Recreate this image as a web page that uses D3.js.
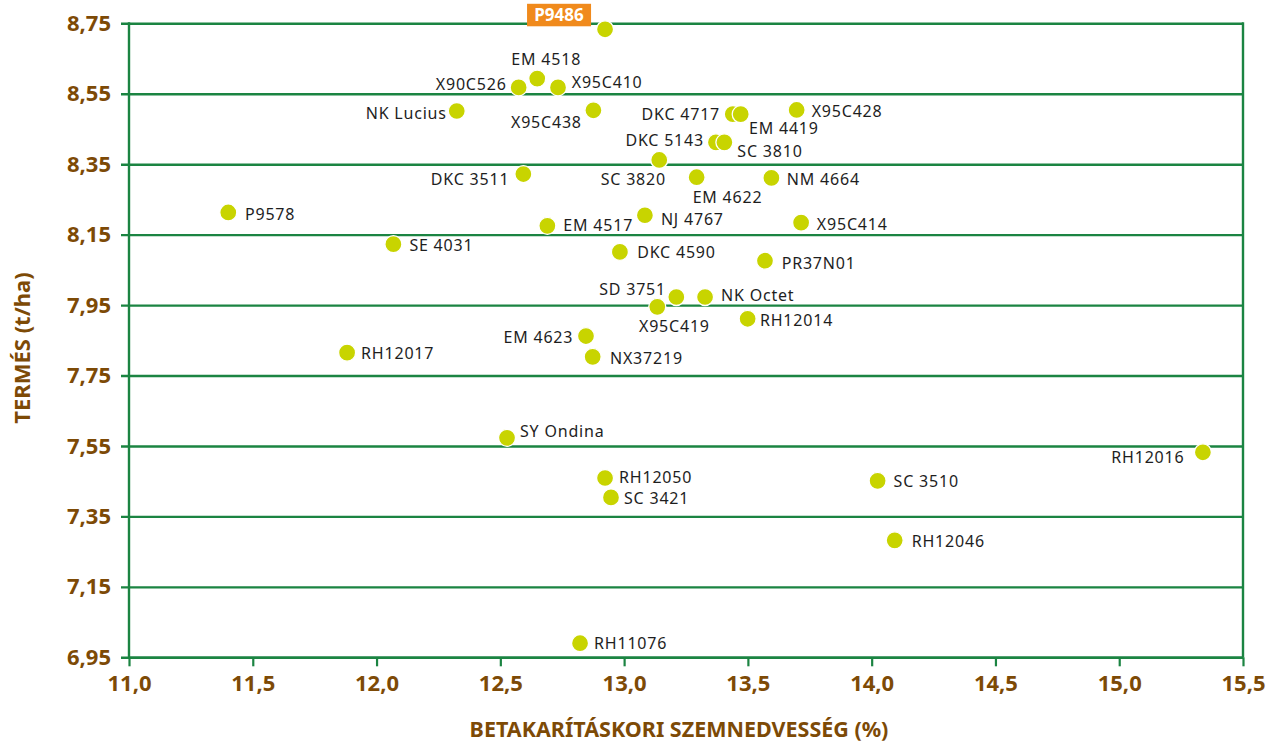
<!DOCTYPE html>
<html>
<head>
<meta charset="utf-8">
<script src="https://cdn.jsdelivr.net/npm/d3@7"></script>
<style>
  html, body { margin: 0; padding: 0; background: #ffffff; }
  svg { display: block; }
</style>
</head>
<body>
<svg id="chart" width="1271" height="745"></svg>
<script>
// ---------- data ----------
const hybrids = ["P9486","EM 4518","X90C526","X95C410","NK Lucius","X95C438","DKC 4717","EM 4419",
  "X95C428","DKC 5143","SC 3810","SC 3820","DKC 3511","EM 4622","NM 4664","NJ 4767","EM 4517",
  "X95C414","SE 4031","P9578","DKC 4590","PR37N01","SD 3751","NK Octet","X95C419","RH12014",
  "EM 4623","NX37219","RH12017","SY Ondina","RH12050","SC 3421","RH11076","SC 3510","RH12046","RH12016"];
const moisture = [12.923,12.649,12.574,12.733,12.324,12.876,13.439,13.471,
  13.697,13.371,13.405,13.142,12.593,13.293,13.595,13.084,12.690,
  13.715,12.068,11.401,12.983,13.569,13.211,13.327,13.134,13.499,
  12.846,12.873,11.881,12.527,12.923,12.947,12.822,14.024,14.093,15.338];
const yieldTha = [8.733,8.593,8.568,8.568,8.501,8.503,8.492,8.492,
  8.504,8.412,8.412,8.362,8.322,8.313,8.311,8.205,8.175,
  8.184,8.123,8.213,8.101,8.076,7.973,7.973,7.945,7.911,
  7.862,7.803,7.815,7.573,7.459,7.404,6.990,7.451,7.282,7.532];
const highlighted = "P9486";
const xTicks = [11.0,11.5,12.0,12.5,13.0,13.5,14.0,14.5,15.0,15.5];
const yTicks = [6.95,7.15,7.35,7.55,7.75,7.95,8.15,8.35,8.55,8.75];
const xTitle = "BETAKARÍTÁSKORI SZEMNEDVESSÉG (%)";
const yTitle = "TERMÉS (t/ha)";

// ---------- label layout (anchor, dx, dy relative to point) ----------
const labelLayout = [
  ["box",0,0],["middle",9,-19],["end",-12,-3.6],["start",13.7,-5.6],["end",-10,2],["end",-11.6,11.7],
  ["end",-12.7,0],["start",8.3,14.3],["start",15,1.7],["end",-12,-2.3],["start",13,8.7],["end",6.7,19.3],
  ["end",-14,5.3],["start",-4,20],["start",15.4,1.2],["start",16,3.7],["start",16,-0.7],["start",15.7,1.3],
  ["start",16,1],["start",16.7,1.7],["start",17.3,0],["start",16.7,2.6],["end",-10.3,-7.7],["start",16,-2],
  ["start",-18.3,19.7],["start",12.3,1.3],["end",-12.7,0.7],["start",17.3,1],["start",14,0.6],["start",13,-6.7],
  ["start",14,-0.5],["start",13,0.5],["start",14,0],["start",16,0],["start",17,0.7],["end",-18.4,5]
];

// ---------- styles ----------
const green = "#1b8442";
const brown = "#7d4a06";
const dotColor = "#c8d400";
const orange = "#f08a1c";

const svg = d3.select("#chart");
const x = d3.scaleLinear().domain([11.0, 15.5]).range([129, 1243]);
const y = d3.scaleLinear().domain([6.95, 8.75]).range([657.3, 23.3]);

const fmtX = v => d3.format(".1f")(v).replace(".", ",");
const fmtY = v => d3.format(".2f")(v).replace(".", ",");

// horizontal gridlines via y axis
const yAxis = d3.axisLeft(y).tickValues(yTicks).tickFormat(fmtY)
  .tickSizeInner(-(x.range()[1] - x.range()[0]) ).tickSizeOuter(0).tickPadding(18);
const gy = svg.append("g").attr("transform", `translate(${x.range()[0]},0)`).call(yAxis);
gy.select(".domain").remove();
gy.selectAll(".tick line").attr("stroke", green).attr("stroke-width", 2.4).attr("x1", -8);
gy.selectAll(".tick text").attr("fill", brown)
  .style("font-family", "'Noto Sans', sans-serif").style("font-weight", "700").style("font-size", "22px");

// x axis ticks
const xAxis = d3.axisBottom(x).tickValues(xTicks).tickFormat(fmtX)
  .tickSizeInner(9).tickSizeOuter(0).tickPadding(9);
const gx = svg.append("g").attr("transform", `translate(0,${y.range()[0]})`).call(xAxis);
gx.select(".domain").attr("stroke", green).attr("stroke-width", 2.4);
gx.selectAll(".tick line").attr("stroke", green).attr("stroke-width", 2.2);
gx.selectAll(".tick text").attr("fill", brown)
  .style("font-family", "'Noto Sans', sans-serif").style("font-weight", "700").style("font-size", "22px");

// left axis line and right border
svg.append("line").attr("x1", x(11.0)).attr("x2", x(11.0)).attr("y1", y(8.75) - 1).attr("y2", y(6.95))
  .attr("stroke", green).attr("stroke-width", 2.4);
svg.append("line").attr("x1", x(15.5)).attr("x2", x(15.5)).attr("y1", y(8.75) - 1).attr("y2", y(6.95))
  .attr("stroke", green).attr("stroke-width", 2.4);

// axis titles
svg.append("text").attr("x", 679).attr("y", 737).attr("text-anchor", "middle")
  .attr("fill", brown).style("font-family", "'Noto Sans', sans-serif").style("font-weight", "700")
  .style("font-size", "21.5px").text(xTitle);
svg.append("text").attr("transform", "translate(30,348) rotate(-90)").attr("text-anchor", "middle")
  .attr("fill", brown).style("font-family", "'Noto Sans', sans-serif").style("font-weight", "700")
  .style("font-size", "22px").text(yTitle);

// points
const pts = hybrids.map((n, i) => ({ name: n, mx: moisture[i], yt: yieldTha[i], lay: labelLayout[i] }));

svg.append("g").selectAll("circle").data(pts).join("circle")
  .attr("cx", d => x(d.mx)).attr("cy", d => y(d.yt)).attr("r", 8.5)
  .attr("fill", dotColor).attr("stroke", "#ffffff").attr("stroke-width", 1.3);

// labels
const lbl = svg.append("g").style("font-family", "'Noto Sans', sans-serif").style("font-size", "16px")
  .style("letter-spacing", "0.8px").attr("fill", "#1e1e1e");
lbl.selectAll("text").data(pts.filter(d => d.lay[0] !== "box")).join("text")
  .attr("x", d => x(d.mx) + d.lay[1]).attr("y", d => y(d.yt) + d.lay[2]).attr("dy", "0.36em")
  .attr("text-anchor", d => d.lay[0]).text(d => d.name);

// highlighted label box
const hp = pts.find(d => d.name === highlighted);
const bx = x(hp.mx), by = y(hp.yt);
svg.append("rect").attr("x", bx - 78).attr("y", by - 25.5).attr("width", 64).attr("height", 22.5).attr("fill", orange);
svg.append("text").attr("x", bx - 46).attr("y", by - 14.2).attr("dy", "0.36em").attr("text-anchor", "middle")
  .attr("fill", "#ffffff").style("font-family", "'Noto Sans', sans-serif").style("font-weight", "700")
  .style("font-size", "17px").text(hp.name);
</script>
</body>
</html>
